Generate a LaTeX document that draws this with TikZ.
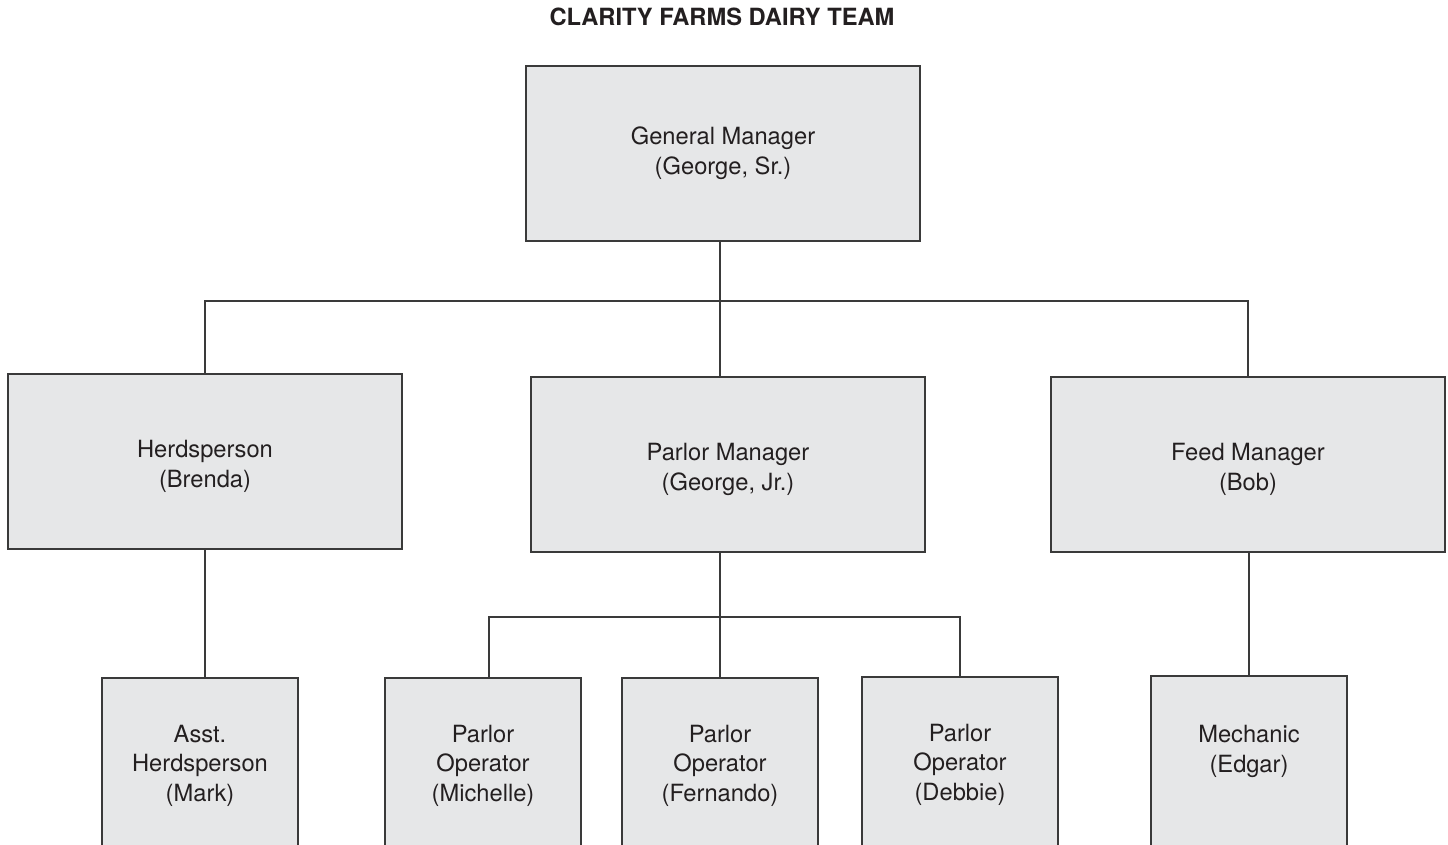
\documentclass[tikz,border=0pt]{standalone}
\usepackage{fontspec}
\setmainfont{TeX Gyre Heros}
\definecolor{cfill}{HTML}{E6E7E8}
\definecolor{cline}{HTML}{3A3A3A}
\definecolor{ctext}{HTML}{231F20}
\tikzset{
  every picture/.style={line width=0.5pt},
  box/.style={draw=cline, fill=cfill, line width=0.75pt, align=center, text=ctext, inner sep=2pt, minimum width=197pt, minimum height=87.5pt, font=\fontsize{11.85}{14.8}\selectfont},
  link/.style={draw=cline, line width=0.55pt},
  title/.style={font=\fontsize{11.85}{14.8}\selectfont\bfseries, text=ctext},
}

\begin{document}
\begin{tikzpicture}[x=0.5pt, y=-0.5pt, sb/.style={box, minimum width=98pt}, mb/.style={box, text height=28.4pt}]
  \useasboundingbox (0,0) rectangle (1448,845);
  \node[title] (ttl) at (722,17) {CLARITY FARMS DAIRY TEAM};
  \node[box] (gm) at (723,153.5) {General Manager\\(George, Sr.)};
  \node[mb] (hp) at (205,461.5) {Herdsperson\\(Brenda)};
  \node[mb] (pm) at (728,464.5) {Parlor Manager\\(George, Jr.)};
  \node[mb] (fm) at (1248,464.5) {Feed Manager\\(Bob)};
  \node[sb] (ah) at (200,765.5) {Asst.\\Herdsperson\\(Mark)};
  \foreach \n/\x/\y/\who in {mo/483/765.5/Michelle, fo/720/765.5/Fernando, do/960/764.5/Debbie}
    \node[sb] (\n) at (\x,\y) {Parlor\\Operator\\(\who)};
  \node[sb] (mech) at (1249,763.5) {Mechanic\\(Edgar)\\\mbox{}};
  \coordinate (bus1) at (0,301); \coordinate (bus2) at (0,617);
  \draw[link] (gm.south -| pm.north) ++(-8,0) -- ++(0,60);
  \draw[link] (hp.north) |- (bus1 -| fm.north) -- (fm.north);
  \draw[link] (fo.north |- bus1) -- (fo.north |- pm.north);
  \draw[link] (hp.south) -- (hp.south |- ah.north);
  \draw[link] (fo.north |- pm.south) -- (fo.north);
  \draw[link] (mo.north) ++(6,0) |- (bus2 -| do.north) -- (do.north);
  \draw[link] (mech.north |- fm.south) -- (mech.north);
\end{tikzpicture}
\end{document}
